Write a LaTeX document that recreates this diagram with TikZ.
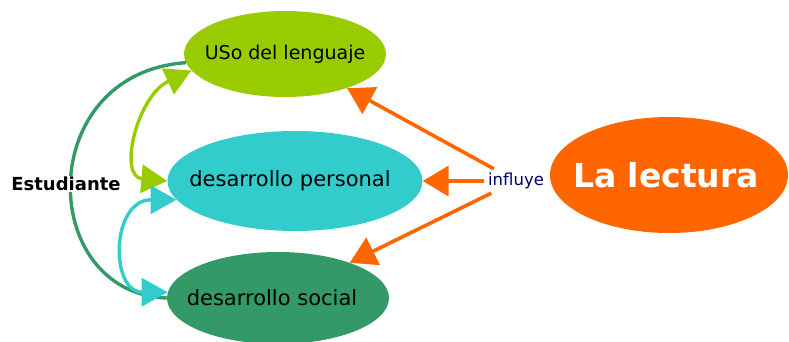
\documentclass[tikz,border=0pt]{standalone}
\usepackage{fontspec}
\setmainfont{DejaVu Sans}
\usetikzlibrary{shapes.geometric,arrows.meta}
\definecolor{cLime}{HTML}{99CC00}
\definecolor{cTeal}{HTML}{33CCCC}
\definecolor{cSea}{HTML}{339966}
\definecolor{cOrange}{HTML}{FF6600}
\definecolor{cNavy}{HTML}{000066}
\begin{document}
\begin{tikzpicture}[x=1pt,y=1pt,
  ell/.style={ellipse, inner sep=0pt, text=black},
  orangearrow/.style={draw=cOrange, line width=3.6pt, -{Triangle[length=26pt,width=30pt]}},
  curvelink/.style={line width=3.4pt},
  bothtips/.style={{Triangle[length=26pt,width=28pt]}-{Triangle[length=26pt,width=28pt]}}]
\useasboundingbox (0,0) rectangle (789,341);
\node[ell, fill=cLime, minimum width=202pt, minimum height=86pt, font=\fontsize{19}{22}\selectfont] (uso) at (285,287) {\makebox[0pt]{USo del lenguaje}};
\node[ell, fill=cTeal, minimum width=255pt, minimum height=100pt, font=\fontsize{21}{24}\selectfont] (personal) at (295,160) {\makebox[0pt]{\hspace*{-10pt}desarrollo personal}};
\node[ell, fill=cSea, minimum width=222pt, minimum height=92pt, font=\fontsize{21}{24}\selectfont] (social) at (278,43) {\makebox[0pt]{\hspace*{-12pt}desarrollo social}};
\node[ell, fill=cOrange, minimum width=238pt, minimum height=116pt, text=white, font=\fontsize{33}{38}\selectfont\bfseries] (lectura) at (669,166) {\makebox[0pt]{\hspace*{-6pt}La lectura}};
\node[text=cNavy, inner sep=4pt, font=\fontsize{16.5}{19}\selectfont] (inf) at (516,160) {influye};
\draw[orangearrow] (inf) -- (uso);
\draw[orangearrow] (inf) -- (personal);
\draw[orangearrow] (inf) -- (social);
\draw[cSea, curvelink] (uso.185) to[out=184,in=178,out distance=153pt,in distance=130pt] (social.180);
\draw[cLime, curvelink, bothtips] (uso.190) to[out=205,in=175,out distance=60pt,in distance=50pt] (personal.180);
\draw[cTeal, curvelink, bothtips] (personal.189) to[out=180,in=180,out distance=66pt,in distance=58pt] (social.177);
\node[fill=white, inner sep=1pt, font=\fontsize{18}{21}\selectfont\bfseries] (stud) at (66,157) {Estudiante};
\end{tikzpicture}
\end{document}
